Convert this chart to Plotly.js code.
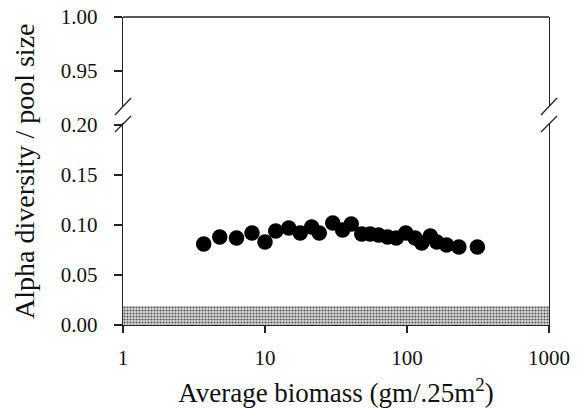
<!DOCTYPE html>
<html>
<head>
<meta charset="utf-8">
<script src="https://cdn.plot.ly/plotly-3.0.1.min.js"></script>
<style>html,body{margin:0;padding:0;background:#fff;}#chart{width:581px;height:408px;}</style>
</head>
<body>
<div id="chart"></div>
<script>
// Data
var biomass = [3.7, 4.8, 6.3, 8.1, 10.0, 11.9, 14.7, 17.7, 21.3, 24.1, 30.0, 35.2, 40.5, 48.0, 55, 63, 73, 84, 98, 114, 127, 146, 162, 190, 232, 313];
var alphaRatio = [0.081, 0.088, 0.087, 0.092, 0.083, 0.094, 0.097, 0.092, 0.098, 0.092, 0.102, 0.095, 0.101, 0.091, 0.091, 0.090, 0.088, 0.087, 0.092, 0.087, 0.082, 0.089, 0.083, 0.080, 0.078, 0.078];
var bandX = [1, 1000];
var bandY = [0.019, 0.019];
var xTickVals = [1, 10, 100, 1000];
var xTickText = ['1', '10', '100', '1000'];
var yTickVals = [0, 0.05, 0.10, 0.15, 0.20];
var yTickText = ['0.00', '0.05', '0.10', '0.15', '0.20'];
var y2TickVals = [0.95, 1.00];
var y2TickText = ['0.95', '1.00'];

var serif = '"Liberation Serif", "Times New Roman", Times, serif';
var axCol = '#222';

var traces = [
  {
    x: bandX, y: bandY, type: 'scatter', mode: 'lines', fill: 'tozeroy',
    line: {width: 0, color: 'rgba(0,0,0,0)'},
    fillcolor: '#d0d0d0',
    fillpattern: {shape: '.', fgcolor: '#555', bgcolor: '#dadada', size: 3, solidity: 0.4},
    hoverinfo: 'skip', xaxis: 'x', yaxis: 'y', showlegend: false
  },
  {
    x: biomass, y: alphaRatio, type: 'scatter', mode: 'markers',
    marker: {color: '#000', size: 15.5, line: {width: 0}},
    xaxis: 'x', yaxis: 'y', showlegend: false
  },
  {
    x: [1], y: [0.99], type: 'scatter', mode: 'markers', marker: {opacity: 0},
    xaxis: 'x', yaxis: 'y2', showlegend: false, hoverinfo: 'skip'
  }
];

var pw = 426, ph = 308;
function px(dx){ return dx / pw; }
function py(yPix){ return (325 - yPix) / ph; }
var lineStyle = {color: axCol, width: 1.3};
var shapes = [
  {type: 'line', xref: 'paper', yref: 'paper', x0: 0, x1: 1, y0: 1, y1: 1, line: lineStyle},
  {type: 'line', xref: 'paper', yref: 'paper', x0: px(-8), x1: px(8), y0: py(115), y1: py(98), line: lineStyle},
  {type: 'line', xref: 'paper', yref: 'paper', x0: px(-8), x1: px(8), y0: py(132), y1: py(116), line: lineStyle},
  {type: 'line', xref: 'paper', yref: 'paper', x0: 1 + px(-8), x1: 1 + px(8), y0: py(115), y1: py(98), line: lineStyle},
  {type: 'line', xref: 'paper', yref: 'paper', x0: 1 + px(-8), x1: 1 + px(8), y0: py(132), y1: py(116), line: lineStyle}
];

var tickFont = {family: serif, size: 21, color: '#111'};

var layout = {
  width: 581, height: 408,
  margin: {l: 123, r: 32, t: 17, b: 83},
  paper_bgcolor: '#fff', plot_bgcolor: '#fff',
  font: {family: serif, color: '#111'},
  showlegend: false,
  xaxis: {
    type: 'log', range: [0, 3], anchor: 'y',
    tickvals: xTickVals, ticktext: xTickText,
    ticks: 'outside', ticklen: 7, tickwidth: 1.2, tickcolor: axCol,
    showline: true, linecolor: axCol, linewidth: 1.3, mirror: false,
    showgrid: false, zeroline: false,
    tickfont: tickFont,
    ticklabelstandoff: 6,
    title: {text: 'Average biomass (gm/.25m<sup>2</sup>)', font: {family: serif, size: 27, color: '#111'}, standoff: 16},
    automargin: false
  },
  yaxis: {
    domain: [0, py(123)], range: [0, 0.202], anchor: 'x',
    tickvals: yTickVals, ticktext: yTickText,
    ticks: 'outside', ticklen: 8, tickwidth: 1.2, tickcolor: axCol,
    showline: true, linecolor: axCol, linewidth: 1.3, mirror: true,
    showgrid: false, zeroline: false,
    tickfont: tickFont,
    ticklabelstandoff: 12,
    automargin: false
  },
  yaxis2: {
    domain: [py(106), 1], range: [1 - (106 - 17) / 1080, 1.0], anchor: 'x',
    tickvals: y2TickVals, ticktext: y2TickText,
    ticks: 'outside', ticklen: 8, tickwidth: 1.2, tickcolor: axCol,
    showline: true, linecolor: axCol, linewidth: 1.3, mirror: true,
    showgrid: false, zeroline: false,
    tickfont: tickFont,
    ticklabelstandoff: 12,
    automargin: false
  },
  annotations: [
    {text: 'Alpha diversity / pool size', xref: 'paper', yref: 'paper', x: px(-99), y: 0.5,
     xanchor: 'center', yanchor: 'middle', textangle: -90, showarrow: false,
     font: {family: serif, size: 28, color: '#111'}}
  ],
  shapes: shapes
};

Plotly.newPlot('chart', traces, layout, {staticPlot: true, displayModeBar: false});
</script>
</body>
</html>
